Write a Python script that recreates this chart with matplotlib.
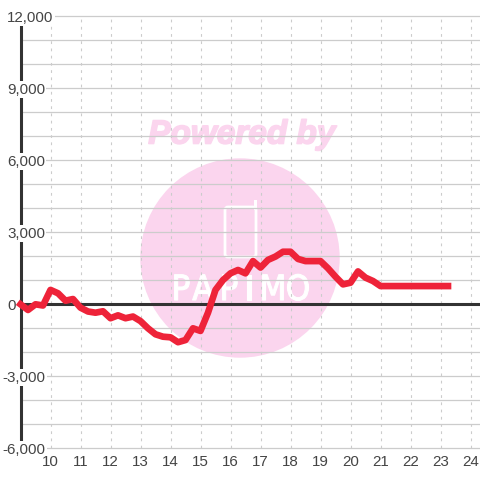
import matplotlib
matplotlib.use('Agg')
import matplotlib.pyplot as plt
import matplotlib.patheffects as pe
from matplotlib.patches import Circle, FancyBboxPatch, Rectangle

# intraday line, one point every 15 minutes
hours = [9, 9.25, 9.5, 9.75, 10, 10.25, 10.5, 10.75, 11, 11.25, 11.5, 11.75,
         12, 12.25, 12.5, 12.75, 13, 13.25, 13.5, 13.75, 14, 14.25, 14.5, 14.75,
         15, 15.25, 15.5, 15.75, 16, 16.25, 16.5, 16.75, 17, 17.25, 17.5, 17.75,
         18, 18.25, 18.5, 18.75, 19, 19.25, 19.5, 19.75, 20, 20.25, 20.5, 20.75,
         21, 21.25, 21.5, 21.75, 22, 22.25, 22.5, 22.75, 23, 23.25]
values = [0, -236, 0, -50, 600, 460, 150, 220, -140, -300, -350, -290,
          -580, -460, -580, -510, -700, -1000, -1250, -1350, -1375, -1580, -1490, -1000,
          -1110, -350, 600, 1010, 1290, 1430, 1290, 1800, 1530, 1850, 1990, 2190,
          2190, 1890, 1800, 1800, 1800, 1500, 1150, 830, 900, 1370, 1110, 970,
          760, 760, 760, 760, 760, 760, 760, 760, 760, 760]

hour_ticks = list(range(10, 25))
value_ticks = [12000, 9000, 6000, 3000, 0, -3000, -6000]
grid_values = list(range(-6000, 13000, 1000))

PX = 1 / 30.0          # hours per pixel
YPX = 1000 / 24.0      # value per pixel
X0 = 9 - 20.5 * PX     # hour at left edge of picture
TOP = 304.3 * YPX

fig = plt.figure(figsize=(4.8, 4.8), dpi=100)
ax = fig.add_axes([0, 0, 1, 1])
ax.set_xlim(X0, X0 + 480 * PX)
ax.set_ylim(TOP - 480 * YPX, TOP)
ax.axis('off')

# watermark, placed in pixels
wm = fig.add_axes([0, 0, 1, 1], zorder=-1)
wm.set_xlim(0, 480)
wm.set_ylim(480, 0)
wm.axis('off')
pink = '#fbd5ee'
wm.add_patch(Circle((240, 258), 99.7, color=pink, lw=0))
wm.add_patch(FancyBboxPatch((225, 207), 31, 50, boxstyle='round,pad=0,rounding_size=3',
                            fc='none', ec='white', lw=2))
wm.add_patch(Rectangle((253.5, 200), 3, 10, color='white', lw=0))
wm.text(242, 135, 'Powered by', color=pink, family='Liberation Sans', weight='bold',
        style='italic', fontsize=24, ha='center', va='center',
        path_effects=[pe.withStroke(linewidth=1.2, foreground=pink)])
for x, letter in zip([181, 203, 229, 249, 273, 298], 'PAPIMO'):
    wm.text(x, 290, letter, color='white', family='DejaVu Sans', stretch='condensed',
            fontsize=25, ha='center', va='center',
            path_effects=[pe.withStroke(linewidth=0.8, foreground='white')])

# grid
ytop = value_ticks[0]
ybot = value_ticks[-1]
ax.hlines(grid_values, 9, X0 + 480 * PX, color='#cccccc', lw=0.9, zorder=1)
ax.vlines(hour_ticks, ybot, ytop, color='#cccccc', lw=0.8, linestyles=(0, (2.5, 4)), zorder=1)

# axis lines
ax.vlines(9, ybot, ytop, color='#333333', lw=2.2, zorder=2)
ax.hlines(0, 9, X0 + 480 * PX, color='#333333', lw=2.2, zorder=2)

# labels sit on white and break the grid + axis line
for v in value_ticks:
    xpos = X0 + (2.5 if v < 0 else 7) * PX
    ax.text(xpos, v - 1.5 * YPX, format(v, ','), ha='left', va='center', fontsize=10.9,
            family='Liberation Sans', color='#444444', zorder=3,
            bbox=dict(fc='white', ec='none', pad=1))
for h in hour_ticks:
    ax.text(h, ybot - 14 * YPX, str(h), ha='center', va='center', fontsize=10.9,
            family='Liberation Sans', color='#444444', zorder=3)

ax.plot(hours, values, color='#ee2339', lw=4.8, solid_joinstyle='round',
        solid_capstyle='projecting', zorder=4)

ax.patch.set_alpha(0)
fig.savefig('out.png', dpi=100)
